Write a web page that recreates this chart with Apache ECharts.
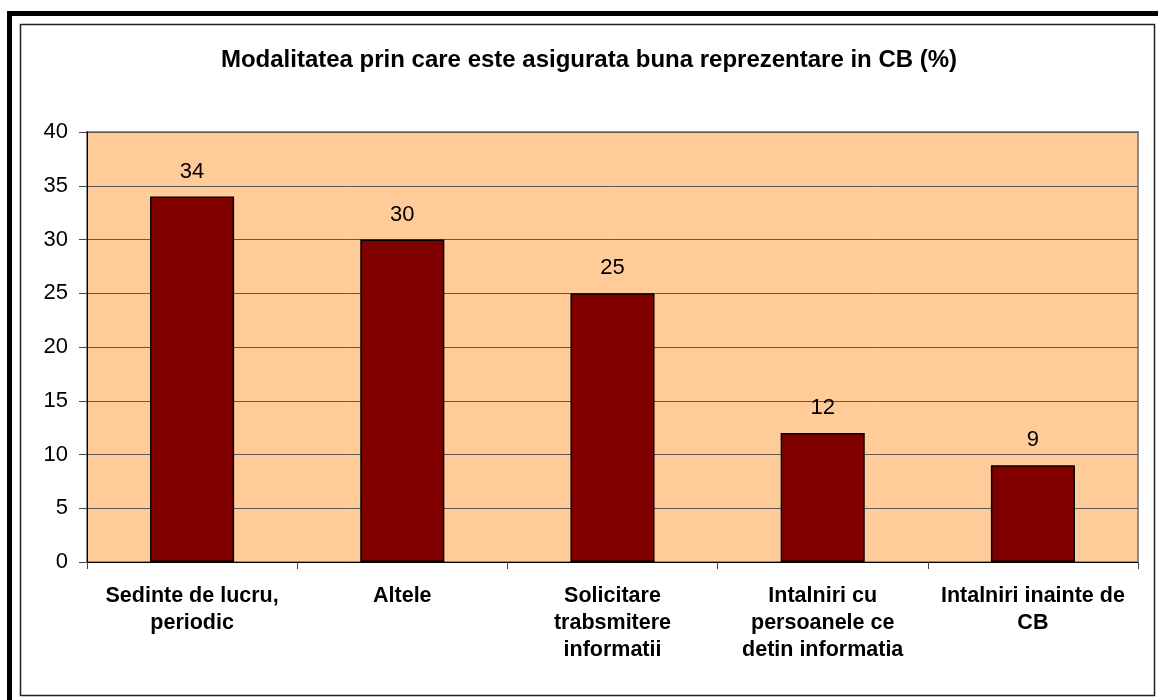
<!DOCTYPE html>
<html>
<head>
<meta charset="utf-8">
<script src="https://cdn.jsdelivr.net/npm/echarts@6/dist/echarts.min.js"></script>
<style>
html,body{margin:0;padding:0;background:#fff;}
#c{width:1158px;height:700px;}
</style>
</head>
<body>
<div id="c"></div>
<script>
const titleText = 'Modalitatea prin care este asigurata buna reprezentare in CB (%)';
const categories = [
  'Sedinte de lucru,\nperiodic',
  'Altele',
  'Solicitare\ntrabsmitere\ninformatii',
  'Intalniri cu\npersoanele ce\ndetin informatia',
  'Intalniri inainte de\nCB'
];
const values = [34, 30, 25, 12, 9];
const yMin = 0, yMax = 40, yStep = 5;

const FONT = '"Liberation Sans", Arial, sans-serif';
const chart = echarts.init(document.getElementById('c'), null, {renderer: 'canvas'});
chart.setOption({
  backgroundColor: '#ffffff',
  animation: false,
  title: {
    text: titleText,
    left: 584,
    textAlign: 'center',
    top: 43,
    textStyle: {fontFamily: FONT, fontSize: 24, fontWeight: 'bold', color: '#000'}
  },
  graphic: [
    {type: 'rect', shape: {x: 20.5, y: 24.5, width: 1134, height: 671}, style: {fill: 'none', stroke: '#222', lineWidth: 1.5}, z: -10},
    {type: 'rect', shape: {x: 7, y: 11, width: 1151, height: 5}, style: {fill: '#000'}},
    {type: 'rect', shape: {x: 7, y: 11, width: 5, height: 689}, style: {fill: '#000'}}
  ],
  grid: {
    left: 87, top: 132, right: 20, bottom: 138,
    show: true, backgroundColor: '#FFCC99', borderColor: '#8c8c8c', borderWidth: 2
  },
  xAxis: {
    type: 'category',
    data: categories,
    axisLine: {show: true, lineStyle: {color: '#000', width: 1}},
    axisTick: {show: true, length: 7, alignWithLabel: false, lineStyle: {color: '#444'}},
    axisLabel: {
      interval: 0, margin: 21,
      fontFamily: FONT, fontSize: 21.5, fontWeight: 'bold', color: '#000',
      lineHeight: 27, align: 'center'
    },
    splitLine: {show: false}
  },
  yAxis: {
    type: 'value',
    min: yMin, max: yMax, interval: yStep,
    axisLine: {show: true, lineStyle: {color: '#000', width: 1}},
    axisTick: {show: true, length: 8, lineStyle: {color: '#444'}},
    axisLabel: {margin: 19, fontFamily: FONT, fontSize: 22, color: '#000'},
    splitLine: {show: true, lineStyle: {color: '#5a5a5a', width: 1}}
  },
  series: [{
    type: 'bar',
    data: values,
    barWidth: '40%',
    itemStyle: {color: '#800000', borderColor: '#000', borderWidth: 1.5},
    label: {
      show: true, position: 'top', distance: 14,
      fontFamily: FONT, fontSize: 22, color: '#000'
    }
  }]
});
</script>
</body>
</html>
